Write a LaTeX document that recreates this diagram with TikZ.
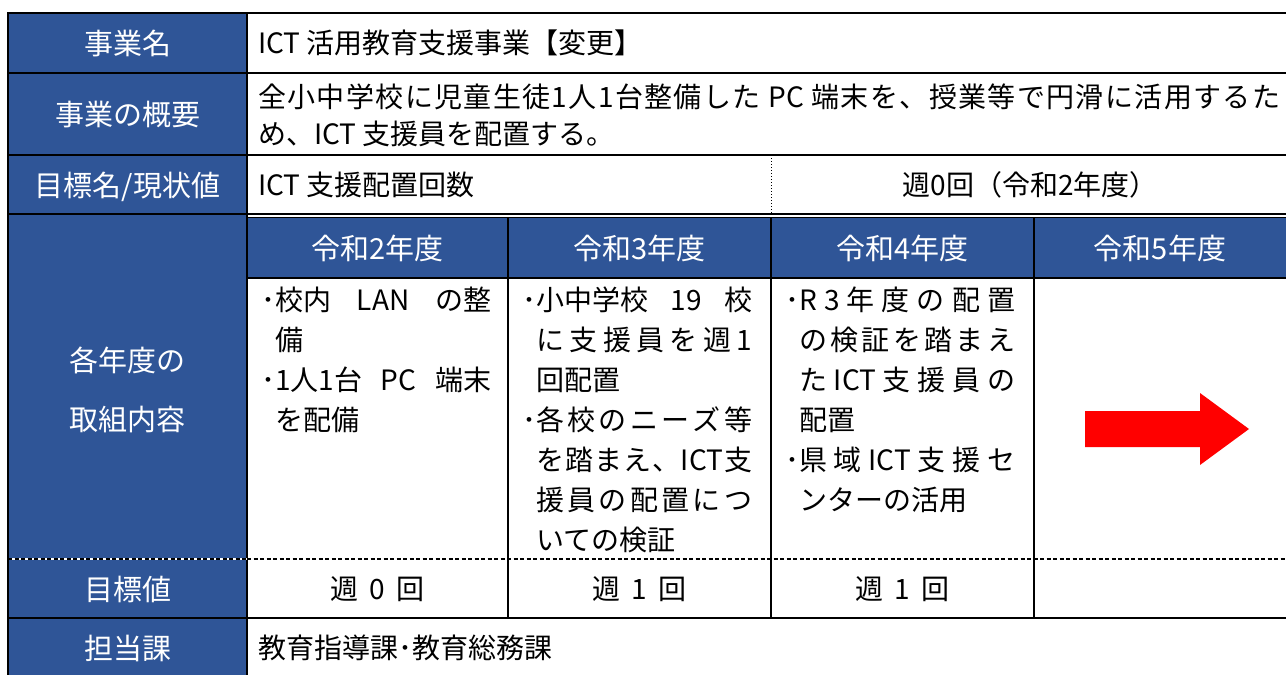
\documentclass[tikz,border=0pt]{standalone}
\usepackage{fontspec}
\setmainfont{Noto Sans CJK JP}
\usepackage{tikz}

\definecolor{hdrblue}{HTML}{2F5597}
\definecolor{arrowred}{HTML}{FF0000}

% spread the characters of one line over a given width
\newcommand\spreadto[2]{\hbox to #1{\spreadfirst#2\relax}}
\def\spreadfirst#1{#1\spreadrest}
\def\spreadrest#1{\ifx\relax#1\else\hfill#1\expandafter\spreadrest\fi}

\tikzset{
  lbl/.style={text=white, font=\fontsize{29}{40}\selectfont, inner sep=0pt, text height=25.5pt, text depth=3.5pt},
  body/.style={text=black, font=\fontsize{28}{40}\selectfont, inner sep=0pt, text height=24.6pt, text depth=3.4pt},
  cellline/.style={body, anchor=west},
  rule/.style={line width=2.6pt},
  colrule/.style={line width=1.6pt}
}

\begin{document}
\begin{tikzpicture}[x=1pt, y=-1pt]
\fill[white] (0,0) rectangle (1286,675);
\useasboundingbox (0,0) rectangle (1286,675);

% Blue label column and year headers
\fill[hdrblue] (8,13) rectangle (247,675);
\fill[hdrblue] (247,217) rectangle (1286,278);

% Red arrow (R5)
\fill[arrowred] (1085,411) -- (1200,411) -- (1200,393) -- (1249,429) -- (1200,465) -- (1200,447) -- (1085,447) -- cycle;

% Rules
\draw[rule] (1286,13) -- (8,13) -- (8,675);
\foreach \y in {73,155,214,618}
    \draw[rule] (8,\y) -- (1286,\y);
\draw[line width=1.2pt] (247,217.5) -- (1286,217.5);
\draw[colrule] (247,13) -- (247,675);
\draw[line width=1pt, dotted] (771,155) -- (771,214);
\draw[colrule] (247,278) -- (1286,278);
\foreach \x in {508,771,1034}
    \draw[colrule] (\x,217) -- (\x,618);
\draw[white, line width=1.5pt] (8,559) -- (247,559);
\draw[line width=2.6pt, dash pattern=on 4pt off 2.5pt] (247,559) -- (1286,559);
\draw[line width=1.5pt, dash pattern=on 4pt off 2.5pt] (8,559) -- (247,559);

% Row labels
\node[lbl] (name-lbl) at (127.5,43) {事業名};
\node[lbl] (sum-lbl) at (127.5,114) {事業の概要};
\node[lbl] (goal-lbl) at (127.5,185) {目標名/現状値};
\node[lbl] (plan-lbl1) at (127.5,360) {各年度の};
\node[lbl] (plan-lbl2) at (127.5,419) {取組内容};
\node[lbl] (tgt-lbl) at (127.5,589) {目標値};
\node[lbl] (dept-lbl) at (127.5,648) {担当課};

% Top rows
\node[cellline] (name-txt) at (258,43) {ICT 活用教育支援事業【変更】};
\node[cellline] (sum-txt1) at (258,97) {\spreadto{1022pt}{全小中学校に児童生徒1人1台整備した{ PC }端末を、授業等で円滑に活用するた}};
\node[cellline] (sum-txt2) at (258,134) {め、ICT 支援員を配置する。};
\node[cellline] (goal-txt) at (258,185) {ICT 支援配置回数};
\node[body] (goal-now) at (1030,185) {週0回（令和2年度）};

% Year headers
\foreach \x/\yr [count=\i] in {377.5/2, 639.5/3, 902.5/4, 1160/5}
    \node[lbl] (yr-\i) at (\x,248) {令和{\yr}年度};

% Yearly contents
\foreach \dx/\txt [count=\i] in {14/{･\makebox[216pt][s]{校内 LAN の整}}, 28/備,
        14/{･\makebox[216pt][s]{1人1台 PC 端末}}, 28/を配備}
    \node[cellline] (c1-\i) at (247+\dx,260+40*\i) {\txt};
\foreach \dx/\txt [count=\i] in {14/{･\makebox[216pt][s]{小中学校 19 校}}, 28/{\spreadto{216pt}{に支援員を週1}},
        28/回配置, 14/{･\spreadto{216pt}{各校のニーズ等}}, 28/{\spreadto{216pt}{を踏まえ、{ICT}支}},
        28/{\spreadto{216pt}{援員の配置につ}}, 28/いての検証}
    \node[cellline] (c2-\i) at (508+\dx,260+40*\i) {\txt};
\foreach \dx/\txt [count=\i] in {14/{･\spreadto{216pt}{R3年度の配置}}, 28/{\spreadto{216pt}{の検証を踏まえ}},
        28/{\spreadto{216pt}{た{ICT}支援員の}}, 28/配置, 14/{･\spreadto{216pt}{県域{ICT}支援セ}},
        28/ンターの活用}
    \node[cellline] (c3-\i) at (771+\dx,260+40*\i) {\txt};

% Target values
\foreach \x/\n [count=\i] in {377.5/0, 639.5/1, 902.5/1}
    \node[body] (tgt-\i) at (\x,589) {週\hspace{11pt}{\n}\hspace{11pt}回};

% Department
\node[cellline] (dept-txt) at (258,648) {教育指導課･教育総務課};

\end{tikzpicture}
\end{document}
